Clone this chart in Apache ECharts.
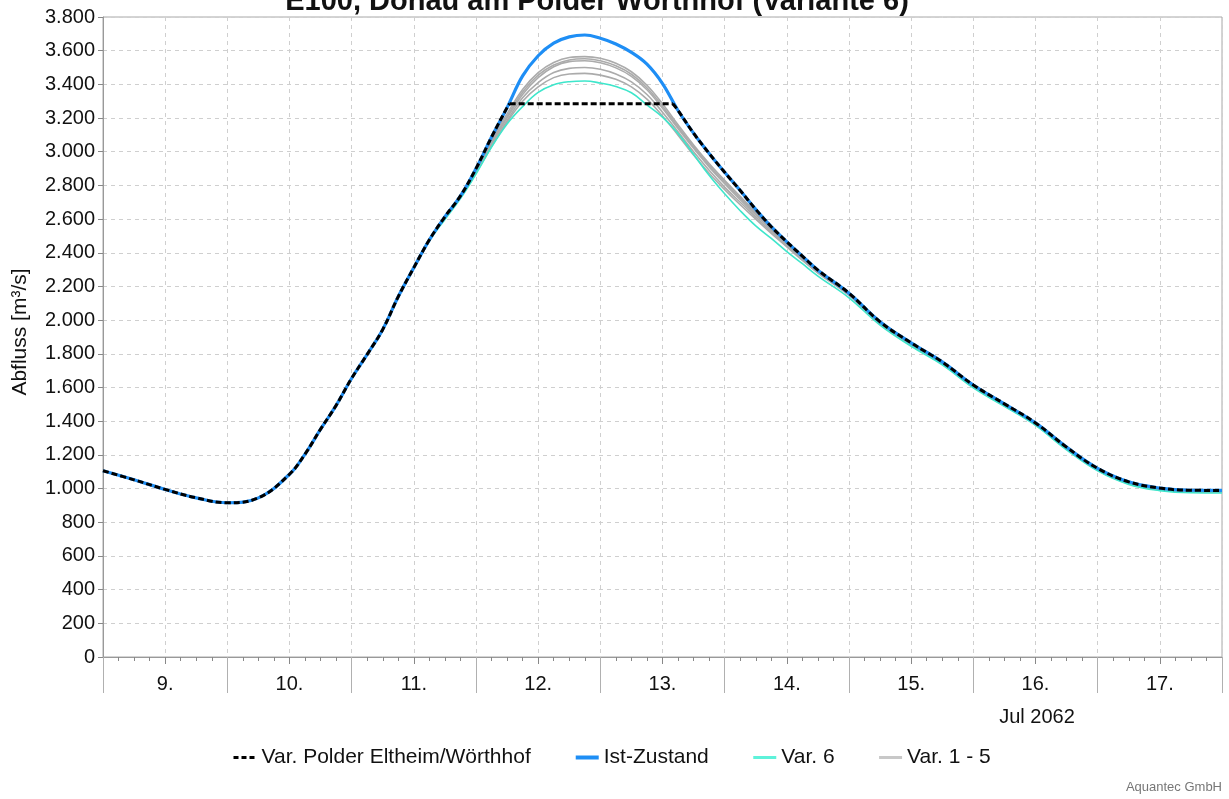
<!DOCTYPE html>
<html>
<head>
<meta charset="utf-8">
<script src="https://cdn.jsdelivr.net/npm/echarts@6/dist/echarts.min.js"></script>
<style>
html,body{margin:0;padding:0;background:#fff;}
#chart{width:1229px;height:799px;}
</style>
</head>
<body>
<div id="chart"></div>
<script>
// ---- data (hours since 9 Jul 2062 00:00) ----
const dayLabels = ['9.', '10.', '11.', '12.', '13.', '14.', '15.', '16.', '17.'];

const hours = [0, 6, 12, 18, 24, 30, 36,
  39, 42, 45, 48, 51, 54, 57, 60, 63, 66, 69, 72, 75, 78, 81, 84, 87, 90, 93, 96, 99, 102,
  105, 108, 111, 114, 117, 120, 123, 126, 129, 132, 135, 138,
  144, 150, 156, 162, 168, 174, 180, 186, 192, 198, 204, 210, 216];

const istZustand = [1106, 1052, 995, 945, 916, 945, 1085,
  1205, 1353, 1494, 1655, 1797, 1945, 2140, 2312, 2477, 2614, 2738, 2900, 3087, 3262, 3450, 3570, 3645, 3682, 3693, 3674, 3640, 3590,
  3520, 3405, 3245, 3110, 2990, 2878, 2770, 2658, 2555, 2465, 2380, 2297,
  2160, 1990, 1865, 1752, 1615, 1503, 1390, 1246, 1120, 1040, 1003, 990, 989];

const var6 = [1106, 1052, 995, 945, 916, 945, 1085,
  1205, 1353, 1494, 1655, 1797, 1945, 2140, 2312, 2470, 2598, 2722, 2868, 3028, 3165, 3268, 3352, 3398, 3416, 3420, 3408, 3387, 3350,
  3278, 3205, 3108, 2985, 2860, 2750, 2650, 2560, 2485, 2407, 2335, 2262,
  2133, 1970, 1845, 1735, 1598, 1488, 1375, 1230, 1105, 1025, 988, 975, 974];

// Var. Polder Eltheim/Wörthhof: rising part, capped part, falling part
const polderRiseHours = [0, 6, 12, 18, 24, 30, 36, 39, 42, 45, 48, 51, 54, 57, 60, 63, 66, 69, 72, 75, 78, 78.5];
const polderRiseValues = [1106, 1052, 995, 945, 916, 945, 1085, 1205, 1353, 1494, 1655, 1797, 1945, 2140, 2312, 2477, 2614, 2738, 2900, 3087, 3262, 3285];
const polderCapHours = [78.5, 110];
const polderCapValues = [3285, 3285];
const polderFallHours = [110, 111, 114, 117, 120, 123, 126, 129, 132, 135, 138,
  144, 150, 156, 162, 168, 174, 180, 186, 192, 198, 204, 210, 216];
const polderFallValues = [3285, 3245, 3110, 2990, 2878, 2770, 2658, 2555, 2465, 2380, 2297,
  2160, 1990, 1865, 1752, 1615, 1503, 1390, 1246, 1120, 1040, 1003, 990, 989];

// Var. 1 - 5
const grayHours = [63, 66, 69, 72, 75, 78, 81, 84, 87, 90, 93, 96, 99, 102, 105, 108, 111, 114, 117, 120, 123, 126, 129, 132, 135, 138,
  144, 150, 156, 162, 168, 174, 180, 186, 192, 198, 204, 210, 216];
const var1 = [2477, 2614, 2738, 2895, 3070, 3225, 3370, 3470, 3530, 3560, 3565, 3555, 3525, 3475, 3395, 3285, 3160, 3040, 2930, 2830, 2735, 2640, 2545, 2458, 2375, 2292,
  2155, 1984, 1860, 1747, 1610, 1498, 1385, 1241, 1115, 1035, 998, 985, 984];
const var2 = [2477, 2614, 2736, 2890, 3060, 3210, 3355, 3455, 3515, 3545, 3552, 3540, 3510, 3460, 3380, 3270, 3148, 3030, 2920, 2820, 2725, 2632, 2540, 2455, 2372, 2290,
  2154, 1983, 1859, 1746, 1609, 1497, 1384, 1240, 1114, 1034, 997, 984, 983];
const var3 = [2477, 2614, 2734, 2885, 3050, 3200, 3340, 3440, 3505, 3535, 3540, 3528, 3498, 3448, 3368, 3258, 3138, 3020, 2910, 2810, 2715, 2625, 2535, 2450, 2368, 2288,
  2153, 1982, 1858, 1745, 1608, 1496, 1383, 1239, 1113, 1033, 996, 983, 982];
const var4 = [2476, 2612, 2732, 2880, 3040, 3185, 3320, 3410, 3470, 3495, 3500, 3490, 3462, 3415, 3340, 3235, 3118, 3000, 2890, 2790, 2700, 2612, 2525, 2442, 2362, 2284,
  2150, 1980, 1856, 1743, 1606, 1494, 1381, 1237, 1111, 1031, 994, 981, 980];
const var5 = [2475, 2610, 2730, 2875, 3030, 3175, 3300, 3385, 3440, 3462, 3465, 3455, 3430, 3385, 3312, 3212, 3098, 2980, 2872, 2775, 2685, 2600, 2515, 2435, 2355, 2280,
  2147, 1978, 1854, 1741, 1604, 1492, 1379, 1235, 1109, 1029, 992, 979, 978];

// ---- build ----
const pairs = (xs, ys) => xs.map((x, i) => [x, ys[i]]);
const FONT = '"Liberation Sans", Arial, sans-serif';
const fmtThousands = v => String(v).replace(/\B(?=(\d{3})+(?!\d))/g, '.');

const NAME_POLDER = 'Var. Polder Eltheim/Wörthhof';
const NAME_IST = 'Ist-Zustand';
const NAME_V6 = 'Var. 6';
const NAME_GRAY = 'Var. 1 - 5';

const grayStyle = { color: '#ababab', width: 1.6 };
const graySeries = [var1, var2, var3, var4, var5].map(arr => ({
  name: NAME_GRAY, type: 'line', smooth: 0.4, symbol: 'none', z: 2,
  itemStyle: { color: '#c8c8c8' },
  lineStyle: grayStyle, data: pairs(grayHours, arr)
}));

const polderStyle = { color: '#000', width: 3, type: [6, 3] };
const chart = echarts.init(document.getElementById('chart'), null, { renderer: 'canvas' });
chart.setOption({
  animation: false,
  backgroundColor: '#ffffff',
  textStyle: { fontFamily: FONT },
  grid: { left: 103, right: 7, top: 17, bottom: 142, show: true, borderColor: '#a8a8a8', borderWidth: 1, containLabel: false },
  legend: {
    left: 227, top: 742, itemWidth: 23, itemHeight: 14, itemGap: 43,
    itemStyle: { opacity: 0, borderWidth: 0 },
    textStyle: { fontSize: 21, color: '#111', fontFamily: FONT },
    data: [
      { name: NAME_POLDER, lineStyle: { width: 3, type: [5, 3], color: '#000' } },
      { name: NAME_IST, lineStyle: { width: 4, color: '#1e8ef5' } },
      { name: NAME_V6, lineStyle: { width: 3, color: '#5ef2da' } },
      { name: NAME_GRAY, lineStyle: { width: 3, color: '#c8c8c8' } }
    ]
  },
  xAxis: [
    {
      type: 'value', min: 0, max: 216, interval: 12, position: 'bottom',
      axisLine: { show: true, onZero: false, lineStyle: { color: '#999' } },
      axisTick: { show: true, length: 7, lineStyle: { color: '#888' } },
      minorTick: { show: true, splitNumber: 4, length: 4, lineStyle: { color: '#888' } },
      axisLabel: {
        margin: 17, fontSize: 20, color: '#111', fontFamily: FONT,
        formatter: v => { const h = Math.round(v); return (h % 24 === 12) ? dayLabels[(h - 12) / 24] : ''; }
      },
      splitLine: { show: true, lineStyle: { color: '#cfcfcf', type: [4, 4] } },
      minorSplitLine: { show: false }
    },
    {
      type: 'value', min: 0, max: 216, interval: 24, position: 'bottom',
      axisLine: { show: false, onZero: false },
      axisTick: { show: true, length: 36, lineStyle: { color: '#b0b0b0' } },
      axisLabel: { show: false },
      splitLine: { show: false }
    }
  ],
  yAxis: {
    type: 'value', min: 0, max: 3800, interval: 200,
    axisLine: { show: true, lineStyle: { color: '#999' } },
    axisTick: { show: true, length: 5, lineStyle: { color: '#888' } },
    axisLabel: { margin: 8, fontSize: 20, color: '#111', fontFamily: FONT, formatter: v => fmtThousands(v) },
    splitLine: { show: true, lineStyle: { color: '#cfcfcf', type: [4, 4] } }
  },
  graphic: [
    { type: 'text', x: 597, y: 1.5, silent: true,
      style: { text: 'E100, Donau am Polder Wörthhof (Variante 6)', font: 'bold 29px ' + FONT, fill: '#111', align: 'center', verticalAlign: 'middle' } },
    { type: 'text', x: 20, y: 332, rotation: Math.PI / 2, silent: true,
      style: { text: 'Abfluss [m³/s]', font: '21px ' + FONT, fill: '#111', align: 'center', verticalAlign: 'middle' } },
    { type: 'text', x: 1037, y: 717, silent: true,
      style: { text: 'Jul 2062', font: '20px ' + FONT, fill: '#111', align: 'center', verticalAlign: 'middle' } },
    { type: 'text', x: 1222, y: 787, silent: true,
      style: { text: 'Aquantec GmbH', font: '13px ' + FONT, fill: '#777', align: 'right', verticalAlign: 'middle' } }
  ],
  series: [
    ...graySeries,
    { name: NAME_V6, type: 'line', smooth: 0.4, symbol: 'none', z: 3,
      itemStyle: { color: '#52f0d6' }, lineStyle: { color: '#3ee6cb', width: 1.6 }, data: pairs(hours, var6) },
    { name: NAME_IST, type: 'line', smooth: 0.4, symbol: 'none', z: 4,
      itemStyle: { color: '#1e8ef5' }, lineStyle: { color: '#1e8ef5', width: 3.2 }, data: pairs(hours, istZustand) },
    { name: NAME_POLDER, type: 'line', smooth: 0.4, symbol: 'none', z: 5,
      itemStyle: { color: '#000' }, lineStyle: polderStyle, data: pairs(polderRiseHours, polderRiseValues) },
    { name: NAME_POLDER, type: 'line', smooth: false, symbol: 'none', z: 5,
      itemStyle: { color: '#000' }, lineStyle: polderStyle, data: pairs(polderCapHours, polderCapValues) },
    { name: NAME_POLDER, type: 'line', smooth: 0.4, symbol: 'none', z: 5,
      itemStyle: { color: '#000' }, lineStyle: polderStyle, data: pairs(polderFallHours, polderFallValues) }
  ]
});
</script>
</body>
</html>
